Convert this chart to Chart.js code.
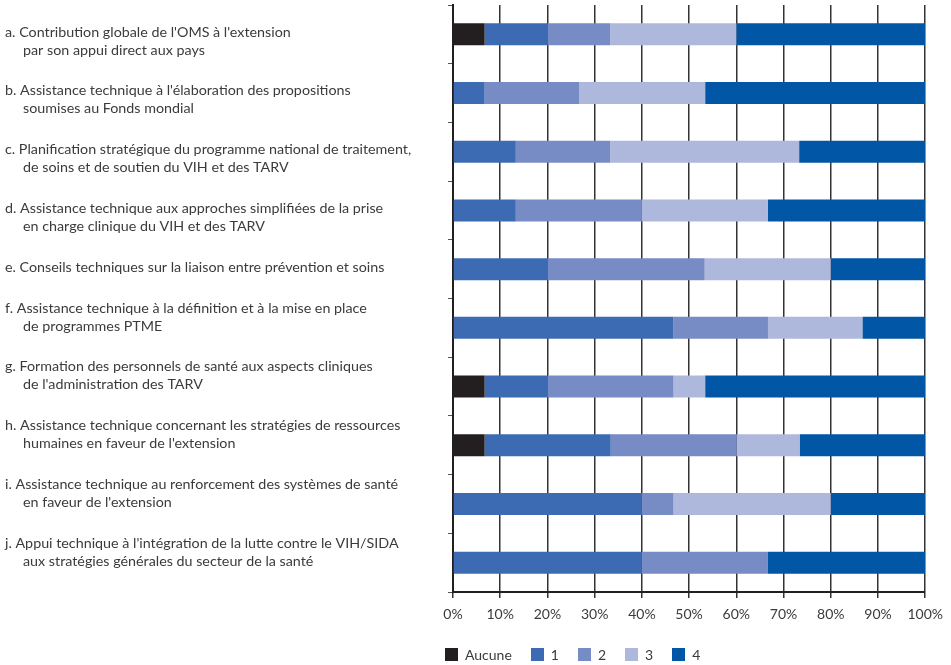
<!DOCTYPE html>
<html lang="fr">
<head>
<meta charset="utf-8">
<title>Appui technique de l'OMS</title>
<script src="https://cdn.jsdelivr.net/npm/chart.js@4/dist/chart.umd.min.js"></script>
<style>
  html, body { margin: 0; padding: 0; background: #fff; }
  #wrap { position: relative; width: 951px; height: 665px; }
  #legende {
    position: absolute; left: 445px; top: 646px;
    display: flex; align-items: center;
    font: 14px Lato, sans-serif; color: #3b3b3b;
  }
  #legende .item { display: flex; align-items: center; margin-right: 19px; }
  #legende .box { width: 13px; height: 13px; margin-right: 7px; }
</style>
</head>
<body>
<div id="wrap">
  <canvas id="graphique" width="951" height="665"></canvas>
  <div id="legende"></div>
</div>
<script>
// libellés des axes (une entrée par ligne de texte)
const categories = ["a", "b", "c", "d", "e", "f", "g", "h", "i", "j"];
const libelles = [
  ["a. Contribution globale de l'OMS à l'extension", "par son appui direct aux pays"],
  ["b. Assistance technique à l'élaboration des propositions", "soumises au Fonds mondial"],
  ["c. Planification stratégique du programme national de traitement,", "de soins et de soutien du VIH et des TARV"],
  ["d. Assistance technique aux approches simplifiées de la prise", "en charge clinique du VIH et des TARV"],
  ["e. Conseils techniques sur la liaison entre prévention et soins"],
  ["f. Assistance technique à la définition et à la mise en place", "de programmes PTME"],
  ["g. Formation des personnels de santé aux aspects cliniques", "de l'administration des TARV"],
  ["h. Assistance technique concernant les stratégies de ressources", "humaines en faveur de l'extension"],
  ["i. Assistance technique au renforcement des systèmes de santé", "en faveur de l'extension"],
  ["j. Appui technique à l'intégration de la lutte contre le VIH/SIDA", "aux stratégies générales du secteur de la santé"],
];

// part des réponses par niveau (%)
const aucune = [6.7, 0, 0, 0, 0, 0, 6.7, 6.7, 0, 0];
const niveau1 = [13.3, 6.7, 13.3, 13.3, 20, 46.7, 13.3, 26.7, 40, 40];
const niveau2 = [13.3, 20, 20, 26.7, 33.3, 20, 26.7, 26.7, 6.7, 26.7];
const niveau3 = [26.7, 26.7, 40, 26.7, 26.7, 20, 6.7, 13.3, 33.3, 0];
const niveau4 = [40, 46.6, 26.7, 33.3, 20, 13.3, 46.6, 26.6, 20, 33.3];

const series = [
  { label: "Aucune", data: aucune, color: "#231f20" },
  { label: "1", data: niveau1, color: "#3c6bb3" },
  { label: "2", data: niveau2, color: "#778cc5" },
  { label: "3", data: niveau3, color: "#aeb8dc" },
  { label: "4", data: niveau4, color: "#0157a6" },
];

const TEXTE = "#3b3b3b";
const GRILLE = "#333333";
const INTERLIGNE = 18;   // entre deux lignes d'un même libellé
const ESPACE = 22.8;     // entre deux libellés

// libellés multilignes à gauche, posés comme un paragraphe depuis la bande "a"
const libellesGauche = {
  id: "libellesGauche",
  afterDraw(chart) {
    const ctx = chart.ctx;
    let yCur = chart.scales.y.getPixelForValue(0) - 2.4;
    ctx.save();
    ctx.font = "14.3px Lato";
    ctx.fillStyle = TEXTE;
    ctx.textBaseline = "middle";
    ctx.textAlign = "left";
    libelles.forEach((lignes) => {
      lignes.forEach((txt, k) => {
        ctx.fillText(txt, k === 0 ? 5 : 23, yCur + k * INTERLIGNE);
      });
      yCur += lignes.length * INTERLIGNE + ESPACE;
    });
    ctx.restore();
  },
};

new Chart(document.getElementById("graphique"), {
  type: "bar",
  data: {
    labels: categories,
    datasets: series.map(s => ({
      label: s.label,
      data: s.data,
      backgroundColor: s.color,
      borderWidth: 0,
      barPercentage: 0.375,
      categoryPercentage: 1,
    })),
  },
  options: {
    indexAxis: "y",
    responsive: false,
    animation: false,
    layout: { padding: { top: 5, right: 24, left: 0, bottom: 0 } },
    scales: {
      x: {
        type: "linear",
        stacked: true,
        min: 0,
        max: 100,
        afterFit: (s) => { s.height = 73; },
        border: { display: true, color: "#231f20", width: 2 },
        grid: { color: GRILLE, lineWidth: 1.5, tickLength: 6, tickColor: GRILLE },
        ticks: {
          stepSize: 10,
          color: TEXTE,
          padding: 8,
          maxRotation: 0,
          font: { family: "Lato", size: 14 },
          callback: (v) => v + "%",
        },
      },
      y: {
        stacked: true,
        afterFit: (s) => { s.width = 453; },
        border: { color: "#231f20", width: 2 },
        grid: { drawOnChartArea: false, offset: true, tickLength: 5, tickColor: "#555555" },
        ticks: { display: false },
      },
    },
    plugins: {
      legend: { display: false },
      tooltip: { enabled: false },
    },
  },
  plugins: [libellesGauche],
});

// légende en bas
const legende = document.getElementById("legende");
legende.innerHTML = series.map(s =>
  `<div class="item"><div class="box" style="background:${s.color}"></div>${s.label}</div>`
).join("");
</script>
</body>
</html>
